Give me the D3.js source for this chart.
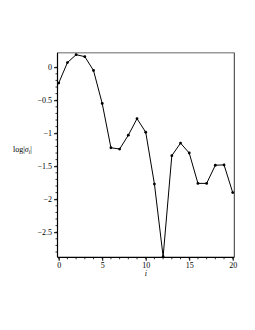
<!DOCTYPE html>
<html>
<head>
<meta charset="utf-8">
<script src="https://cdn.jsdelivr.net/npm/d3@7"></script>
<style>
  body { margin: 0; background: #fff; }
  text { font-family: "Liberation Serif", "DejaVu Serif", serif; font-size: 8px; fill: #000; }
</style>
</head>
<body>
<svg id="chart" width="255" height="330"></svg>
<script>
var steps = [0, 1, 2, 3, 4, 5, 6, 7, 8, 9, 10, 11, 12, 13, 14, 15, 16, 17, 18, 19, 20];
var logSigma = [-0.24, 0.07, 0.19, 0.16, -0.05, -0.55, -1.22, -1.24, -1.03, -0.78, -0.985,
                -1.77, -2.87, -1.34, -1.15, -1.30, -1.76, -1.76, -1.485, -1.48, -1.90];
var xTicks = [0, 5, 10, 15, 20];
var yTicks = [0, -0.5, -1, -1.5, -2, -2.5];

var svg = d3.select("#chart");
var pLeft = 57.5, pRight = 234.3, pTop = 52.7, pBottom = 257.3;

var x = d3.scaleLinear().domain([-0.14, 20.18]).range([pLeft, pRight]);
var y = d3.scaleLinear().domain([-2.88, 0.22]).range([pBottom, pTop]);

// frame: top grey, right dark
svg.append("line").attr("x1", pLeft).attr("x2", pRight).attr("y1", pTop).attr("y2", pTop)
  .attr("stroke", "#999").attr("stroke-width", 1.5);
svg.append("line").attr("x1", pRight).attr("x2", pRight).attr("y1", pTop).attr("y2", pBottom)
  .attr("stroke", "#333").attr("stroke-width", 1);

function fmt(d) { return d < 0 ? "\u2212" + Math.abs(d) : String(d); }

// minor ticks
var xMinor = d3.range(0, 21, 1);
svg.append("g").selectAll("line").data(xMinor).enter().append("line")
  .attr("x1", function(d) { return x(d); }).attr("x2", function(d) { return x(d); })
  .attr("y1", pBottom).attr("y2", pBottom + 2)
  .attr("stroke", "#000").attr("stroke-width", 0.8);
var yMinor = d3.range(0, 29).map(function(k) { return -k / 10; });
svg.append("g").selectAll("line").data(yMinor).enter().append("line")
  .attr("x1", pLeft - 2).attr("x2", pLeft)
  .attr("y1", function(d) { return y(d); }).attr("y2", function(d) { return y(d); })
  .attr("stroke", "#000").attr("stroke-width", 0.8);

var xAxis = svg.append("g").attr("transform", "translate(0," + pBottom + ")")
  .call(d3.axisBottom(x).tickValues(xTicks).tickSize(3.5).tickPadding(2).tickFormat(fmt));
var yAxis = svg.append("g").attr("transform", "translate(" + pLeft + ",0)")
  .call(d3.axisLeft(y).tickValues(yTicks).tickSize(3.5).tickPadding(2).tickFormat(fmt));
[xAxis, yAxis].forEach(function(a) {
  a.select(".domain").attr("stroke", "#000").attr("stroke-width", 1.2);
  a.selectAll(".tick line").attr("stroke", "#000");
  a.selectAll("text").attr("font-family", "Liberation Serif, serif").attr("font-size", 8).attr("fill", "#000");
});
xAxis.select(".domain").attr("d", "M" + pLeft + ",0H" + pRight);
yAxis.select(".domain").attr("d", "M0," + pBottom + "V" + pTop);

var line = d3.line()
  .x(function(d, i) { return x(steps[i]); })
  .y(function(d) { return y(d); });
svg.append("path").datum(logSigma).attr("d", line)
  .attr("fill", "none").attr("stroke", "#000").attr("stroke-width", 1);
svg.append("g").selectAll("circle").data(logSigma).enter().append("circle")
  .attr("cx", function(d, i) { return x(steps[i]); })
  .attr("cy", function(d) { return y(d); })
  .attr("r", 1.4).attr("fill", "#000");

// axis labels
var yl = svg.append("text").attr("x", 13).attr("y", 152);
yl.append("tspan").text("log|");
yl.append("tspan").attr("font-style", "italic").text("\u03c3");
yl.append("tspan").attr("font-style", "italic").attr("font-size", 5.5).attr("dy", 2).text("i");
yl.append("tspan").attr("dy", -2).text("|");
svg.append("text").attr("x", x(10) - 1).attr("y", 276).attr("font-style", "italic").text("i");
</script>
</body>
</html>
